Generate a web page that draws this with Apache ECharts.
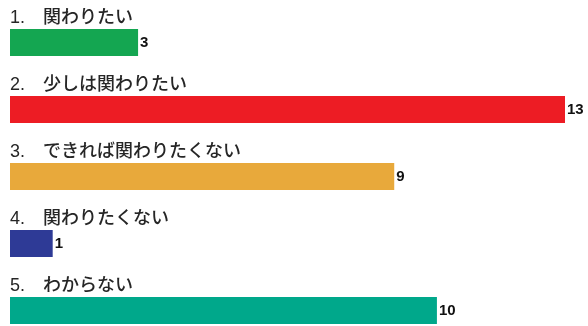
<!DOCTYPE html>
<html>
<head>
<meta charset="utf-8">
<script src="https://cdn.jsdelivr.net/npm/echarts@6/dist/echarts.min.js"></script>
<style>
  html, body { margin: 0; padding: 0; background: #ffffff; overflow: hidden; }
  /* the last band runs past the visible bottom edge */
  #chart { width: 588px; height: 344px; }
</style>
</head>
<body>
<div id="chart"></div>
<script>
// Survey answers, one bar per choice
const categories = [
  '1.\u3000関わりたい',
  '2.\u3000少しは関わりたい',
  '3.\u3000できれば関わりたくない',
  '4.\u3000関わりたくない',
  '5.\u3000わからない'
];
const counts = [3, 13, 9, 1, 10];
const barColors = ['#14a651', '#ed1c24', '#e8a93b', '#2e3a96', '#00a88b'];

const chart = echarts.init(document.getElementById('chart'), null, { renderer: 'canvas' });

chart.setOption({
  backgroundColor: '#ffffff',
  animation: false,
  grid: { left: 10, top: 9, right: 23, bottom: 0, containLabel: false },
  xAxis: {
    type: 'value',
    min: 0,
    max: 13,
    show: false
  },
  yAxis: {
    type: 'category',
    data: categories,
    inverse: true,
    axisLine: { show: false },
    axisTick: { show: false },
    splitLine: { show: false },
    axisLabel: {
      inside: true,
      margin: 0,
      align: 'left',
      verticalAlign: 'bottom',
      padding: [0, 0, 15, 0],
      color: '#262626',
      fontSize: 18,
      fontWeight: 500,
      fontFamily: '"Liberation Sans", "Noto Sans CJK JP", sans-serif'
    },
    z: 5
  },
  series: [{
    type: 'bar',
    data: counts.map((v, i) => ({ value: v, itemStyle: { color: barColors[i] } })),
    barWidth: 27,
    label: {
      show: true,
      position: 'right',
      distance: 2,
      color: '#111111',
      fontSize: 15,
      fontWeight: 'bold',
      fontFamily: '"Liberation Sans", Arial, sans-serif'
    }
  }]
});
</script>
</body>
</html>
